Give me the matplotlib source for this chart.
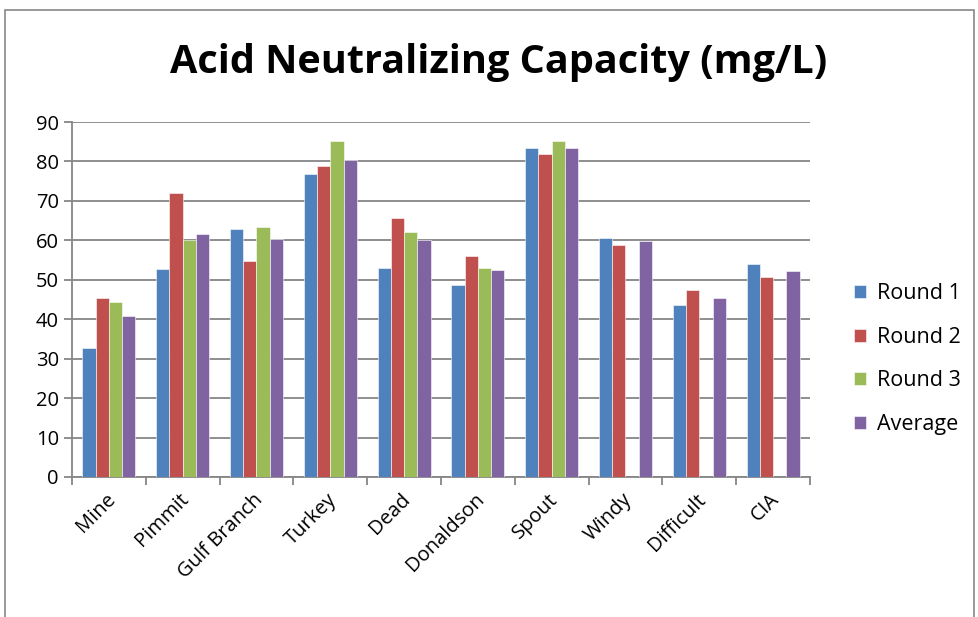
import numpy as np
import matplotlib
matplotlib.use("Agg")
import matplotlib.pyplot as plt
from matplotlib.patches import Rectangle

sites = ["Mine", "Pimmit", "Gulf Branch", "Turkey", "Dead", "Donaldson",
         "Spout", "Windy", "Difficult", "CIA"]
round1 = [32.6, 52.8, 63.0, 76.7, 53.1, 48.7, 83.5, 60.7, 43.5, 53.9]
round2 = [45.5, 71.9, 54.7, 78.8, 65.6, 56.0, 82.0, 58.7, 47.5, 50.8]
round3 = [44.3, 60.0, 63.3, 85.1, 62.0, 53.1, 85.1, 0, 0, 0]
average = [40.8, 61.5, 60.3, 80.3, 60.2, 52.6, 83.5, 59.8, 45.5, 52.3]
series_names = ["Round 1", "Round 2", "Round 3", "Average"]
colors = ["#4F81BD", "#C0504D", "#9BBB59", "#8064A2"]

plt.rcParams['font.family'] = ['Open Sans', 'DejaVu Sans']

fig = plt.figure(figsize=(9.79, 6.17), dpi=100)
ax = fig.add_axes([72 / 979, 1 - 477 / 617, (810 - 72) / 979, (477 - 122) / 617])

# ramka wykresu
fig.patches.append(Rectangle((5 / 979, -0.1), (974 - 5) / 979, 1.1 - 10 / 617,
                             transform=fig.transFigure, fill=False,
                             edgecolor="#888888", linewidth=1.2))

x = np.arange(len(sites))
w = 0.18
for i, (vals, name, c) in enumerate(zip([round1, round2, round3, average], series_names, colors)):
    ax.bar(x + (i - 1.5) * w, vals, width=w, color=c, label=name,
           edgecolor="white", linewidth=0.4, zorder=3)

ax.set_xlim(-0.5, len(sites) - 0.5)
ax.set_ylim(0, 90)
ax.set_yticks(range(0, 91, 10))
ax.yaxis.grid(True, color="#868686", linewidth=1.3, zorder=0)
ax.set_axisbelow(True)

ax.set_xticks(x - 0.05)
ax.set_xticklabels(sites, rotation=45, ha="right", rotation_mode="anchor", fontsize=14.5)
ax.tick_params(axis="x", length=0, pad=9)
ax.set_xticks(np.arange(-0.5, len(sites), 1), minor=True)
ax.tick_params(axis="x", which="minor", length=6, color="#868686", width=1.3, direction="out")
ax.tick_params(axis="y", labelsize=14.5, length=6, color="#868686", width=1.3, direction="out")

for s in ["top", "right"]:
    ax.spines[s].set_visible(False)
for s in ["left", "bottom"]:
    ax.spines[s].set_color("#868686")
    ax.spines[s].set_linewidth(1.3)

fig.text(499 / 979, 1 - 62 / 617, "Acid Neutralizing Capacity (mg/L)", ha="center", va="center",
         fontsize=28.5, fontweight="bold")

ax.legend(loc="center left", bbox_to_anchor=(835 / 979, 1 - 359 / 617),
          bbox_transform=fig.transFigure, frameon=False, fontsize=15.5,
          handlelength=0.55, handleheight=0.55, labelspacing=1.05, handletextpad=0.5)

fig.savefig("out.png", dpi=100)
